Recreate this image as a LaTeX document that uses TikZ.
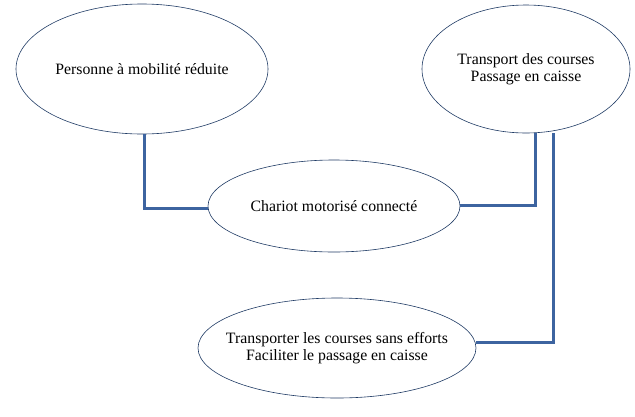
\documentclass[tikz,border=0pt]{standalone}
\usepackage{fontspec}
\setmainfont{Liberation Serif}
\usetikzlibrary{shapes.geometric}
\definecolor{edgeblue}{HTML}{1F3A64}
\definecolor{linkblue}{HTML}{3D64A0}
\begin{document}
\begin{tikzpicture}[x=1pt,y=-1pt,
  oval/.style={draw=edgeblue, line width=0.6pt, ellipse, inner ysep=0pt, inner xsep=-20pt, align=center, font=\fontsize{15.8}{17.5}\selectfont},
  link/.style={draw=linkblue, line width=3pt}]
\useasboundingbox (0,0) rectangle (635,416);
\node[oval, minimum width=252pt, minimum height=130pt] (pmr) at (142,69) {Personne à mobilité réduite};
\node[oval, minimum width=208pt, minimum height=128pt] (tr) at (526,69) {Transport des courses\\Passage en caisse};
\node[oval, minimum width=252pt, minimum height=92pt] (ch) at (334,206) {Chariot motorisé connecté};
\node[oval, minimum width=278pt, minimum height=100pt] (tc) at (337,348) {Transporter les courses sans efforts\\Faciliter le passage en caisse};
\coordinate (c1) at (144,208);
\coordinate (c2) at (535,205);
\coordinate (c3) at (553,342);
\draw[link] (pmr.south -| c1) -- (c1) -- (ch.west |- c1);
\draw[link] (ch.east |- c2) -- (c2) -- (c2 |- tr.south);
\draw[link] (tc.east |- c3) -- (c3) -- (c3 |- tr.south);
\end{tikzpicture}
\end{document}
